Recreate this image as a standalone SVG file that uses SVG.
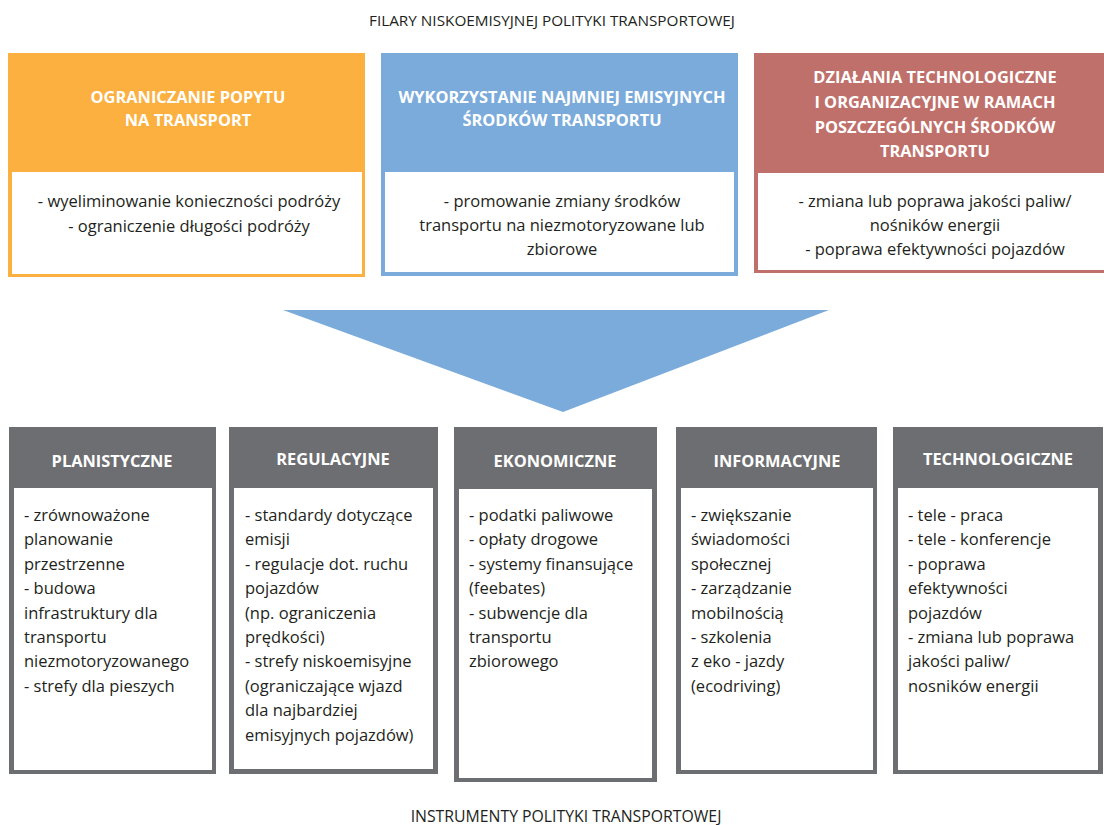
<svg xmlns="http://www.w3.org/2000/svg" width="1104" height="825" viewBox="0 0 1104 825">
  <style>
    .cap { font-family: "Open Sans", Lato, sans-serif; font-size: 15.3px; fill: #231f20; text-anchor: middle; }
    .cap-low { font-size: 15.8px; }
    .hd { font-family: "Open Sans", Lato, sans-serif; font-weight: 700; font-size: 16.4px; fill: #ffffff; text-anchor: middle; }
    .tx { font-family: "Open Sans", Lato, sans-serif; font-size: 16.5px; fill: #231f20; }
    .mid { text-anchor: middle; }
    .body { fill: #ffffff; }
    .gray { fill: #6d6e71; }
  </style>

  <rect width="1104" height="825" fill="#ffffff"/>

  <text class="cap" x="552" y="26">FILARY NISKOEMISYJNEJ POLITYKI TRANSPORTOWEJ</text>

  <!-- pillar 1 -->
  <g id="pillar-demand">
    <rect x="8" y="53" width="357" height="224" fill="#fbb040"/>
    <rect class="body" x="12" y="172" width="350" height="102"/>
    <text class="hd" x="188" y="103">OGRANICZANIE POPYTU</text>
    <text class="hd" x="188" y="125.5">NA TRANSPORT</text>
    <text class="tx mid" x="189" y="207">- wyeliminowanie konieczności podróży</text>
    <text class="tx mid" x="189" y="232">- ograniczenie długości podróży</text>
  </g>

  <!-- pillar 2 -->
  <g id="pillar-modes">
    <rect x="381" y="53" width="357" height="223" fill="#7aabdb"/>
    <rect class="body" x="385" y="172" width="349" height="100"/>
    <text class="hd" x="562" y="103">WYKORZYSTANIE NAJMNIEJ EMISYJNYCH</text>
    <text class="hd" x="562" y="125.5">ŚRODKÓW TRANSPORTU</text>
    <text class="tx mid" x="562" y="207">- promowanie zmiany środków</text>
    <text class="tx mid" x="562" y="231">transportu na niezmotoryzowane lub</text>
    <text class="tx mid" x="562" y="255">zbiorowe</text>
  </g>

  <!-- pillar 3 -->
  <g id="pillar-tech">
    <rect x="754" y="53" width="362" height="220" fill="#c0706a"/>
    <rect class="body" x="758" y="173" width="354" height="97"/>
    <text class="hd" x="935" y="82.5">DZIAŁANIA TECHNOLOGICZNE</text>
    <text class="hd" x="935" y="107.5">I ORGANIZACYJNE W RAMACH</text>
    <text class="hd" x="935" y="132.5">POSZCZEGÓLNYCH ŚRODKÓW</text>
    <text class="hd" x="935" y="157">TRANSPORTU</text>
    <text class="tx mid" x="935" y="207">- zmiana lub poprawa jakości paliw/</text>
    <text class="tx mid" x="935" y="231">nośników energii</text>
    <text class="tx mid" x="935" y="255">- poprawa efektywności pojazdów</text>
  </g>

  <!-- funnel arrow -->
  <g id="connectors">
    <polygon points="283,310 829,310 563,412" fill="#7aabdb"/>
  </g>

  <!-- instrument boxes -->
  <g id="inst-planning">
    <rect class="gray" x="9" y="427" width="207" height="347"/>
    <rect class="body" x="14" y="488" width="198" height="282"/>
    <text class="hd" x="112" y="467">PLANISTYCZNE</text>
    <text class="tx" x="24">
      <tspan x="24" y="521">- zrównoważone</tspan>
      <tspan x="24" y="545.4">planowanie</tspan>
      <tspan x="24" y="569.8">przestrzenne</tspan>
      <tspan x="24" y="594.2">- budowa</tspan>
      <tspan x="24" y="618.6">infrastruktury dla</tspan>
      <tspan x="24" y="643">transportu</tspan>
      <tspan x="24" y="667.4">niezmotoryzowanego</tspan>
      <tspan x="24" y="691.8">- strefy dla pieszych</tspan>
    </text>
  </g>

  <g id="inst-regulatory">
    <rect class="gray" x="229" y="427" width="209" height="347"/>
    <rect class="body" x="234" y="488" width="199" height="281"/>
    <text class="hd" x="333" y="465">REGULACYJNE</text>
    <text class="tx" x="245">
      <tspan x="245" y="521">- standardy dotyczące</tspan>
      <tspan x="245" y="545.4">emisji</tspan>
      <tspan x="245" y="569.8">- regulacje dot. ruchu</tspan>
      <tspan x="245" y="594.2">pojazdów</tspan>
      <tspan x="245" y="618.6">(np. ograniczenia</tspan>
      <tspan x="245" y="643">prędkości)</tspan>
      <tspan x="245" y="667.4">- strefy niskoemisyjne</tspan>
      <tspan x="245" y="691.8">(ograniczające wjazd</tspan>
      <tspan x="245" y="716.2">dla najbardziej</tspan>
      <tspan x="245" y="740.6">emisyjnych pojazdów)</tspan>
    </text>
  </g>

  <g id="inst-economic">
    <rect class="gray" x="454" y="427" width="203" height="355"/>
    <rect class="body" x="459" y="489" width="193" height="289"/>
    <text class="hd" x="555" y="467">EKONOMICZNE</text>
    <text class="tx" x="469">
      <tspan x="469" y="521">- podatki paliwowe</tspan>
      <tspan x="469" y="545.4">- opłaty drogowe</tspan>
      <tspan x="469" y="569.8">- systemy finansujące</tspan>
      <tspan x="469" y="594.2">(feebates)</tspan>
      <tspan x="469" y="618.6">- subwencje dla</tspan>
      <tspan x="469" y="643">transportu</tspan>
      <tspan x="469" y="667.4">zbiorowego</tspan>
    </text>
  </g>

  <g id="inst-information">
    <rect class="gray" x="676" y="427" width="201" height="347"/>
    <rect class="body" x="681" y="488" width="192" height="282"/>
    <text class="hd" x="777" y="467">INFORMACYJNE</text>
    <text class="tx" x="691">
      <tspan x="691" y="521">- zwiększanie</tspan>
      <tspan x="691" y="545.4">świadomości</tspan>
      <tspan x="691" y="569.8">społecznej</tspan>
      <tspan x="691" y="594.2">- zarządzanie</tspan>
      <tspan x="691" y="618.6">mobilnością</tspan>
      <tspan x="691" y="643">- szkolenia</tspan>
      <tspan x="691" y="667.4">z eko - jazdy</tspan>
      <tspan x="691" y="691.8">(ecodriving)</tspan>
    </text>
  </g>

  <g id="inst-technology">
    <rect class="gray" x="893" y="427" width="210" height="347"/>
    <rect class="body" x="898" y="488" width="200" height="282"/>
    <text class="hd" x="998" y="465">TECHNOLOGICZNE</text>
    <text class="tx" x="908">
      <tspan x="908" y="521">- tele - praca</tspan>
      <tspan x="908" y="545.4">- tele - konferencje</tspan>
      <tspan x="908" y="569.8">- poprawa</tspan>
      <tspan x="908" y="594.2">efektywności</tspan>
      <tspan x="908" y="618.6">pojazdów</tspan>
      <tspan x="908" y="643">- zmiana lub poprawa</tspan>
      <tspan x="908" y="667.4">jakości paliw/</tspan>
      <tspan x="908" y="691.8">nosników energii</tspan>
    </text>
  </g>

  <text class="cap cap-low" x="566" y="822">INSTRUMENTY POLITYKI TRANSPORTOWEJ</text>
</svg>
